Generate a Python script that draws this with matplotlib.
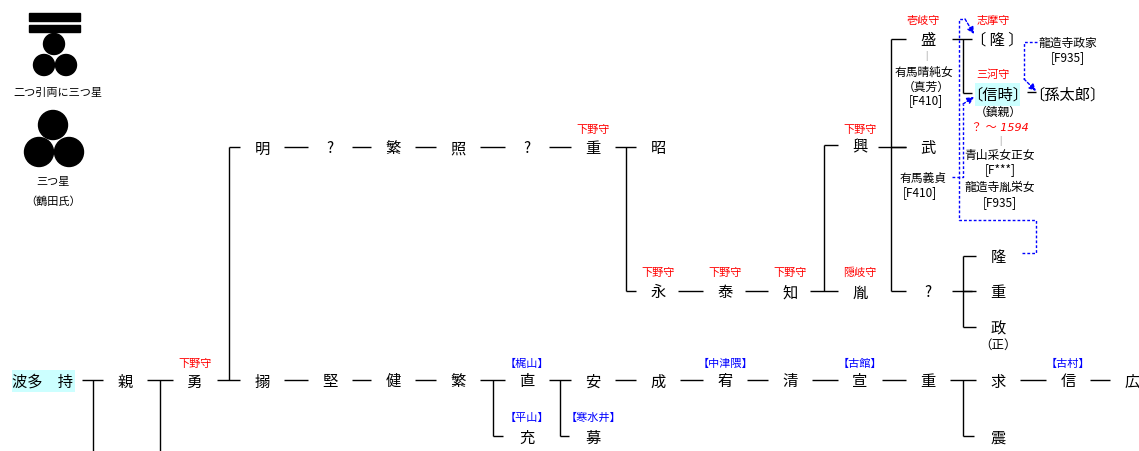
import matplotlib
matplotlib.use('Agg')
from matplotlib import pyplot as plt
from matplotlib.patches import Circle, Rectangle

plt.rcParams['font.family'] = ['Noto Sans CJK JP', 'DejaVu Sans']

# --- data: names along each line of the family tree ---
main_names = ['波多\u3000持', '親', '勇', '搦', '堅', '健', '繁', '直', '安',
              '成', '宥', '清', '宣', '重', '求', '信', '広']
main_x = [43, 125, 195, 262, 330, 393, 458, 527, 593,
          658, 725, 790, 860, 928, 998, 1068, 1132]
main_branch = [0, 1, 2, 6, 7, 13]          # where a vertical branch starts

upper_names = ['明', '?', '繁', '照', '?', '重', '昭']
upper_x = [262, 330, 393, 458, 527, 593, 658]

mid_names = ['永', '泰', '知', '胤']
mid_x = [658, 725, 790, 860]

kou_children = ['盛', '武', '?']           # children of 興
kou_child_y = [40, 148, 292]
q_children = ['隆', '重', '政']            # children of ?
q_child_y = [257, 292, 328]

# titles (red) and family names (blue)
red_titles = ['下野守', '下野守', '下野守', '下野守', '下野守', '隠岐守', '下野守',
              '壱岐守', '志摩守', '三河守']
red_pos = [(195, 364), (593, 130), (658, 273), (725, 273), (790, 273), (860, 273),
           (860, 130), (923, 21), (993, 21), (993, 75)]
blue_labels = ['【梶山】', '【平山】', '【寒水井】', '【中津隈】', '【古館】', '【古村】']
blue_pos = [(527, 364), (527, 418), (593, 418), (725, 364), (860, 364), (1068, 364)]

fig = plt.figure(figsize=(11.39, 4.52), dpi=100)
ax = fig.add_axes([0, 0, 1, 1])
ax.set_xlim(0, 1139)
ax.set_ylim(452, 0)
ax.axis('off')

NAME = 11
SMALL = 8
NOTE = 8.5


def t(x, y, s, size=NAME, color='black', **kw):
    ax.text(x, y, s, ha='center', va='center', fontsize=size, color=color, **kw)


def ln(xs, ys, **kw):
    kw.setdefault('color', 'black')
    kw.setdefault('lw', 1.0)
    ax.plot(xs, ys, solid_capstyle='butt', **kw)


# --- crests ---
ax.add_patch(Rectangle((29, 14), 51, 8, color='black'))
ax.add_patch(Rectangle((29, 26), 51, 7, color='black'))
for cx, cy in [(54, 45), (44, 66), (66, 66)]:
    ax.add_patch(Circle((cx, cy), 10.5, color='black'))
t(58, 93, '二つ引両に三つ星', size=8)
for cx, cy in [(53, 126), (39, 153), (69, 153)]:
    ax.add_patch(Circle((cx, cy), 14.5, color='black'))
t(53, 182, '三つ星', size=8)
t(53, 202, '（鶴田氏）', size=8)

# --- highlight boxes ---
ax.add_patch(Rectangle((12, 371), 63, 22, color='#ccffff', lw=0))
ax.add_patch(Rectangle((975, 84), 45, 23, color='#ccffff', lw=0))

# --- main line ---
Y0 = 381
for i, (s, x) in enumerate(zip(main_names, main_x)):
    t(x, Y0 + 1, s)
for i in range(len(main_x) - 1):
    a = 82 if i == 0 else main_x[i] + 22
    b = main_x[i + 1] - 22
    ln([a, b], [Y0, Y0])
    if i in main_branch:
        m = (a + b) / 2
        if i in (0, 1):
            ln([m, m], [Y0, 452])
        elif i == 2:
            ln([m, m], [Y0, 148])
            ln([m, upper_x[0] - 22], [148, 148])
        else:
            ln([m, m], [Y0, 437])
            ln([m, main_x[i + 1] - 24], [437, 437])

# children below main line
t(527, 438, '充')
t(593, 438, '募')
t(998, 438, '震')

# --- upper line (明 ... 昭) ---
Y1 = 148
for s, x in zip(upper_names, upper_x):
    t(x, Y1 + 1, s)
for i in range(len(upper_x) - 1):
    a, b = upper_x[i] + 22, upper_x[i + 1] - 22
    ln([a, b], [Y1, Y1])
m = (upper_x[-2] + 22 + upper_x[-1] - 22) / 2
ln([m, m], [Y1, 292])
ln([m, mid_x[0] - 22], [292, 292])

# --- middle line (永 ... 胤) ---
Y2 = 292
for s, x in zip(mid_names, mid_x):
    t(x, Y2 + 1, s)
for i in range(len(mid_x) - 1):
    a, b = mid_x[i] + 20, mid_x[i + 1] - 22
    ln([a, b], [Y2, Y2])
    if i == len(mid_x) - 2:
        m = (a + b) / 2
        ln([m, m], [Y2, 146])
        ln([m, b], [146, 146])
t(860, 147, '興')

# --- children of 興 ---
ln([878, 906], [148, 148])
ln([891, 891], [40, 292])
for s, y in zip(kou_children, kou_child_y):
    ln([891, 906], [y, y])
    t(928, y + 1, s)

# 盛 -> [隆], [信時]
ln([952, 972], [40, 40])
ln([963, 963], [40, 94])
ln([963, 972], [94, 94])
t(997, 40, '〔 隆 〕')
t(998, 95, '〔信時〕')
ln([1027, 1036], [93, 93])
t(1067, 95, '〔孫太郎〕')

t(926, 56, '|', size=6, color='gray')
t(924, 72, '有馬晴純女', size=NOTE)
t(926, 87, '（真芳）', size=NOTE)
t(926, 101, '[F410]', size=NOTE)
t(923, 178, '有馬義貞', size=NOTE)
t(920, 193, '[F410]', size=NOTE)

t(998, 112, '（鎮親）', size=NOTE)
t(1000, 128, '？ ～ 1594', size=SMALL, color='red', style='italic',
  family=['DejaVu Sans', 'Noto Sans CJK JP'])
t(1000, 141, '|', size=6, color='gray')
t(1000, 155, '青山采女正女', size=NOTE)
t(1000, 170, '[F***]', size=NOTE)
t(1000, 187, '龍造寺胤栄女', size=NOTE)
t(1000, 203, '[F935]', size=NOTE)

t(1068, 43, '龍造寺政家', size=NOTE)
t(1068, 58, '[F935]', size=NOTE)

# --- children of ? ---
ln([952, 972], [292, 292])
ln([963, 963], [257, 328])
for s, y in zip(q_children, q_child_y):
    ln([963, 976], [y, y])
    t(998, y + 1, s)
t(998, 345, '（正）', size=9)

# --- red / blue labels ---
for s, (x, y) in zip(red_titles, red_pos):
    t(x, y, s, size=SMALL, color='red')
for s, (x, y) in zip(blue_labels, blue_pos):
    t(x, y, s, size=SMALL, color='blue')

# --- blue dashed adoption links ---
dash = dict(color='blue', lw=1.0, ls=(0, (2, 1.5)))
arrow = dict(arrowstyle='-|>', color='blue', lw=1.0, ls=(0, (2, 1.5)),
             mutation_scale=10, shrinkA=0, shrinkB=0)
ax.plot([1037, 1024, 1024], [43, 43, 80], **dash)
ax.annotate('', xy=(1036, 92), xytext=(1024, 80), arrowprops=arrow)
ax.plot([1022, 1036, 1036, 959, 959, 965], [254, 254, 221, 221, 20, 20], **dash)
ax.annotate('', xy=(974, 35), xytext=(965, 20), arrowprops=arrow)
ax.plot([952, 963, 963], [178, 178, 105], **dash)
ax.annotate('', xy=(974, 98), xytext=(963, 105), arrowprops=arrow)

fig.savefig('out.png', dpi=100)
